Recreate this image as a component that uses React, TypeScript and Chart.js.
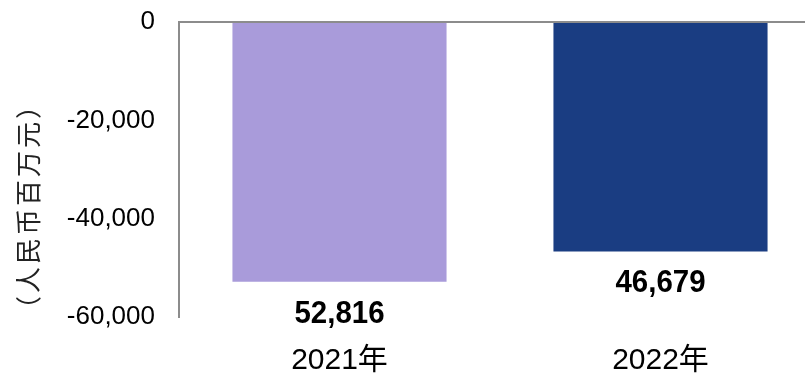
import React, { useEffect, useRef } from "react";
import { Chart, registerables } from "chart.js";

Chart.register(...registerables);

const categories = ["2021年", "2022年"];
const values = [-52816, -46679];
const barColors = ["#A99BDA", "#1A3D82"];
const yTicks = [0, -20000, -40000, -60000];
const yTitle = "（人民币百万元）";

const fmt = (v: number) => {
  const s = Math.abs(v).toLocaleString("en-US");
  return v < 0 ? "-" + s : s;
};

const labelPlugin = {
  id: "customLabels",
  afterDatasetsDraw(chart: any) {
    const ctx = chart.ctx;
    const meta = chart.getDatasetMeta(0);
    ctx.save();
    ctx.fillStyle = "#000";
    ctx.font = "bold 32px 'Liberation Sans', Arial, sans-serif";
    ctx.textAlign = "center";
    ctx.textBaseline = "middle";
    meta.data.forEach((bar: any, i: number) => {
      const text = Math.abs(values[i]).toLocaleString("en-US");
      ctx.save();
      ctx.translate(bar.x, bar.y + 32);
      ctx.scale(0.92, 1);
      ctx.fillText(text, 0, 0);
      ctx.restore();
    });
    ctx.restore();
    // y-axis title
    ctx.save();
    ctx.fillStyle = "#222";
    ctx.font = "26px 'Noto Sans CJK SC', sans-serif";
    try {
      (ctx as any).letterSpacing = "3px";
    } catch (e) {}
    ctx.textAlign = "center";
    ctx.textBaseline = "middle";
    ctx.translate(28, 206);
    ctx.rotate(-Math.PI / 2);
    ctx.fillText(yTitle, 0, 0);
    ctx.restore();
  },
};

export default function App() {
  const ref = useRef<HTMLCanvasElement | null>(null);
  useEffect(() => {
    if (!ref.current) return;
    const chart = new Chart(ref.current, {
      type: "bar",
      data: {
        labels: categories,
        datasets: [
          {
            data: values,
            backgroundColor: barColors,
            borderWidth: 0,
            barPercentage: 0.667,
            categoryPercentage: 1,
          },
        ],
      },
      options: {
        responsive: false,
        animation: false,
        layout: { autoPadding: false, padding: { top: 22, left: 0, right: 0, bottom: 0 } },
        plugins: { legend: { display: false }, tooltip: { enabled: false } },
        scales: {
          x: {
            type: "category",
            grid: { display: false },
            border: { display: false },
            ticks: {
              color: "#000",
              padding: 18,
              font: { size: 30, family: "'Liberation Sans', 'Noto Sans CJK SC', sans-serif" },
              maxRotation: 0,
            },
            afterFit: (s: any) => {
              s.height = 56;
            },
          },
          y: {
            min: -60000,
            max: 0,
            afterBuildTicks: (s: any) => {
              s.ticks = yTicks.map((v) => ({ value: v }));
            },
            grid: {
              drawTicks: false,
              lineWidth: 2,
              color: (c: any) => (c.tick && c.tick.value === 0 ? "#8C8C8C" : "rgba(0,0,0,0)"),
            },
            border: { display: true, color: "#8C8C8C", width: 2 },
            ticks: {
              color: "#000",
              padding: 24,
              font: { size: 26, family: "'Liberation Sans', Arial, sans-serif" },
              callback: (v: any) => fmt(Number(v)),
            },
            afterFit: (s: any) => {
              s.width = 179;
              s.paddingTop = 0;
              s.paddingBottom = 0;
            },
          },
        },
      },
      plugins: [labelPlugin],
    });
    return () => chart.destroy();
  }, []);
  return (
    <div
      style={{
        position: "absolute",
        left: 0,
        top: 0,
        width: 805,
        height: 373,
        overflow: "hidden",
        background: "#fff",
      }}
    >
      <canvas ref={ref} width={821} height={373} style={{ display: "block" }} />
    </div>
  );
}
